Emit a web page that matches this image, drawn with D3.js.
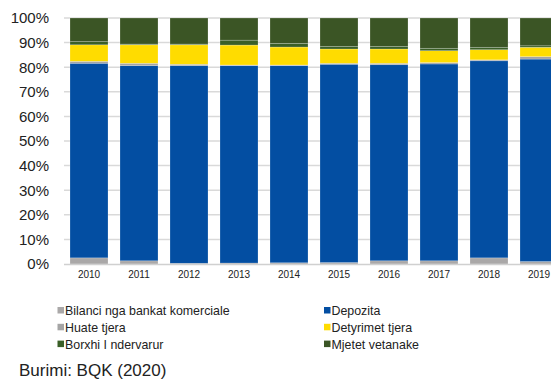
<!DOCTYPE html>
<html>
<head>
<meta charset="utf-8">
<script src="https://cdnjs.cloudflare.com/ajax/libs/d3/7.8.5/d3.min.js"></script>
<style>
body{margin:0;background:#fff;}
svg{display:block;font-family:"Liberation Sans",Arial,sans-serif;}
</style>
</head>
<body>
<svg id="chart" width="551" height="381"></svg>
<script>
var years = ["2010","2011","2012","2013","2014","2015","2016","2017","2018","2019"];
var seriesNames = ["Bilanci nga bankat komerciale","Depozita","Huate tjera","Detyrimet tjera","Borxhi I ndervarur","Mjetet vetanake"];
var seriesColors = ["#aaa8a8","#034ea2","#a5a5a5","#ffdc00","#3a5f27","#3b5525"];
// shares in % per year, bottom to top
var bilanci   = [2.5, 1.3, 0.3, 0.4, 0.5, 0.6, 1.3, 1.3, 2.5, 1.0];
var depozita  = [79.1,79.3,80.3,80.2,80.1,80.6,79.7,80.0,80.1,82.3];
var huate     = [0.8, 1.0, 0.6, 0.3, 0.3, 0.4, 0.6, 0.6, 0.4, 1.0];
var detyrimet = [6.7, 7.5, 7.9, 8.1, 7.3, 5.8, 5.8, 4.8, 4.1, 3.8];
var borxhi    = [1.3, 0.3, 0.3, 2.0, 1.5, 1.1, 1.1, 1.0, 1.0, 0.6];
var mjetet    = [9.6, 10.6,10.6, 9.0, 10.3,11.5,11.5,12.3,11.9,11.3];
var yTicks = [0,10,20,30,40,50,60,70,80,90,100];

var svg = d3.select('#chart');
var allSeries = [bilanci,depozita,huate,detyrimet,borxhi,mjetet];
var rows = years.map(function(y,i){
    var r = {year:y};
    seriesNames.forEach(function(n,k){ r[n] = allSeries[k][i]; });
    return r;
});
var stacked = d3.stack().keys(seriesNames).offset(d3.stackOffsetExpand)(rows);

var x = d3.scaleBand().domain(years).range([64,564]).paddingInner(0.24).paddingOuter(0.12);
var y = d3.scaleLinear().domain([0,1]).range([264,18]);

//gridlines
svg.append('g').selectAll('line').data(yTicks.slice(1)).join('line')
    .attr('x1',64).attr('x2',564)
    .attr('y1',function(d){return y(d/100);}).attr('y2',function(d){return y(d/100);})
    .attr('stroke','#d9d9d9').attr('stroke-width',1.5);

svg.append('g').selectAll('g').data(stacked).join('g')
    .attr('fill',function(d,i){return seriesColors[i];})
    .selectAll('rect').data(function(d){return d;}).join('rect')
    .attr('x',function(d){return x(d.data.year);})
    .attr('width',x.bandwidth())
    .attr('y',function(d){return y(d[1]);})
    .attr('height',function(d){return y(d[0])-y(d[1]);})
    .attr('stroke','rgba(255,255,255,0.35)').attr('stroke-width',0.6);

//baseline
svg.append('line').attr('x1',64).attr('x2',564).attr('y1',264.5).attr('y2',264.5)
    .attr('stroke','#d0d0d0').attr('stroke-width',1.5);

//y axis labels
var yAxis = d3.axisLeft(d3.scaleLinear().domain([0,100]).range([264,18]))
    .tickValues(yTicks).tickSize(0).tickPadding(0)
    .tickFormat(function(d){return d+'%';});
var ya = svg.append('g').attr('transform','translate(49,0)').call(yAxis);
ya.select('.domain').remove();
ya.selectAll('text').attr('font-size',15).attr('fill','#222').attr('font-family','"Liberation Sans",Arial,sans-serif');

//x axis labels
var xAxis = d3.axisBottom(x).tickSize(0).tickPadding(0);
var xa = svg.append('g').attr('transform','translate(0,271)').call(xAxis);
xa.select('.domain').remove();
xa.selectAll('text').attr('font-size',10).attr('fill','#222').attr('font-family','"Liberation Sans",Arial,sans-serif');

//legend, row-wise two columns
var legend = svg.append('g').selectAll('g').data(seriesNames).join('g')
    .attr('transform',function(d,i){
        var col = i%2, row = Math.floor(i/2);
        return 'translate('+(col?324:57.5)+','+(310.5+row*16.8)+')';
    });
legend.append('rect').attr('x',0).attr('y',-3.5).attr('width',6.5).attr('height',6.5)
    .attr('fill',function(d,i){return seriesColors[i];});
legend.append('text').attr('x',7.5).attr('y',4.4).attr('font-size',12.4).attr('fill','#222')
    .text(function(d){return d;});

svg.append('text').attr('x',19).attr('y',376).attr('font-size',17).attr('fill','#222')
    .text('Burimi: BQK (2020)');
</script>
</body>
</html>
